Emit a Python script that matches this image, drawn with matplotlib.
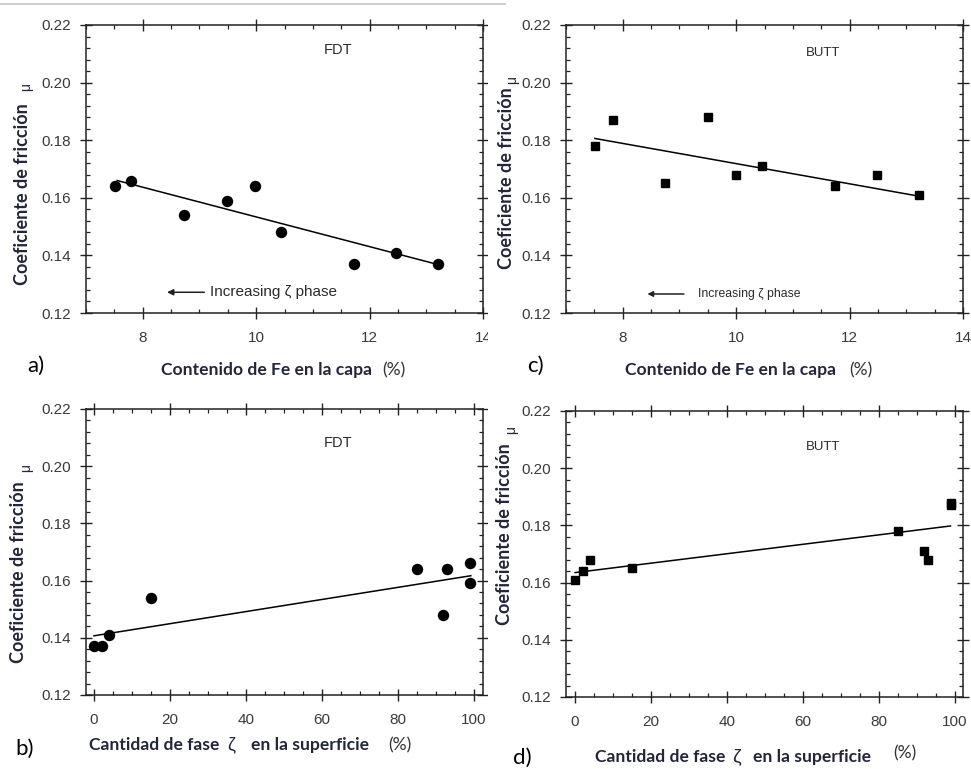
import matplotlib
matplotlib.use("Agg")
import matplotlib.pyplot as plt
from matplotlib.ticker import MultipleLocator, FormatStrFormatter
from matplotlib.patches import Rectangle
from matplotlib.lines import Line2D

# ---------------- data ----------------
fe_fdt = [7.51, 7.80, 8.72, 9.49, 9.98, 10.43, 11.72, 12.46, 13.21]
mu_fdt = [0.164, 0.166, 0.154, 0.159, 0.164, 0.148, 0.137, 0.141, 0.137]
fit_fe_fdt_x = [7.55, 13.25]
fit_fe_fdt_y = [0.166, 0.1366]

fe_butt = [7.52, 7.82, 8.74, 9.51, 10.0, 10.45, 11.74, 12.48, 13.22]
mu_butt = [0.178, 0.187, 0.165, 0.188, 0.168, 0.171, 0.164, 0.168, 0.161]
fit_fe_butt_x = [7.51, 13.27]
fit_fe_butt_y = [0.1806, 0.1604]

zeta_fdt = [0, 2, 4, 15, 85, 93, 92, 99, 99]
mu_zeta_fdt = [0.137, 0.137, 0.141, 0.154, 0.164, 0.164, 0.148, 0.166, 0.159]
fit_zeta_fdt_x = [0, 99.2]
fit_zeta_fdt_y = [0.1407, 0.1617]

zeta_butt = [0, 2, 4, 15, 85, 92, 93, 99, 99]
mu_zeta_butt = [0.161, 0.164, 0.168, 0.165, 0.178, 0.171, 0.168, 0.188, 0.187]
fit_zeta_butt_x = [0, 98.9]
fit_zeta_butt_y = [0.1635, 0.1798]

yticks = [0.12, 0.14, 0.16, 0.18, 0.20, 0.22]
fe_ticks = [8, 10, 12, 14]
zeta_ticks = [0, 20, 40, 60, 80, 100]

# ---------------- figure ----------------
W, H = 971, 769
fig = plt.figure(figsize=(W / 100, H / 100), dpi=100)
fig.patch.set_facecolor("white")

def axrect(l, r, t, b):
    return [l / W, 1 - b / H, (r - l) / W, (b - t) / H]

TICKC = "#3a3a3a"
LABC = "#23263a"
TICKFONT = "Liberation Sans"
LABFONT = "Lato"

def style(ax, xlim, xticks, xminor, xfmt):
    ax.set_ylim(0.12, 0.22)
    ax.set_xlim(*xlim)
    ax.set_yticks(yticks)
    ax.yaxis.set_minor_locator(MultipleLocator(0.004))
    ax.set_xticks(xticks)
    ax.xaxis.set_minor_locator(MultipleLocator(xminor))
    ax.yaxis.set_major_formatter(FormatStrFormatter("%.2f"))
    ax.xaxis.set_major_formatter(FormatStrFormatter(xfmt))
    ax.tick_params(which="major", direction="inout", length=8, width=1,
                   top=True, right=True, labelsize=11, labelcolor=TICKC,
                   pad=5, color="#222222")
    ax.tick_params(axis="x", which="major", pad=9)
    ax.tick_params(axis="y", which="major", pad=7)
    ax.tick_params(which="minor", direction="in", length=3, width=0.9,
                   top=True, right=True, color="#222222")
    for lab in ax.get_xticklabels() + ax.get_yticklabels():
        lab.set_fontfamily(TICKFONT)
    for s in ax.spines.values():
        s.set_linewidth(1.1)
        s.set_color("#222222")

ax_a = fig.add_axes(axrect(86, 483, 25, 313))
ax_c = fig.add_axes(axrect(566, 963, 25, 313))
ax_b = fig.add_axes(axrect(86, 483, 409, 695))
ax_d = fig.add_axes(axrect(566, 963, 411, 697))

for ax in (ax_a, ax_b):
    ax.set_zorder(0)
for ax in (ax_c, ax_d):
    ax.set_zorder(2)
# white panel covering the cut-off labels of the left panels
fig.patches.append(Rectangle((488 / W, 0), 1 - 488 / W, 1, transform=fig.transFigure,
                             facecolor="white", edgecolor="none", zorder=1))
fig.lines.append(Line2D([0, 505 / W], [1 - 4.3 / H, 1 - 4.3 / H], transform=fig.transFigure,
                        color="#c8c8c8", lw=1.3, zorder=3))

style(ax_a, (7, 14), fe_ticks, 0.5, "%d")
style(ax_c, (7, 14), fe_ticks, 0.5, "%d")
style(ax_b, (-2.1, 102.4), zeta_ticks, 5, "%d")
style(ax_d, (-2.4, 102.2), zeta_ticks, 5, "%d")

# data
ax_a.plot(fe_fdt, mu_fdt, "o", color="black", ms=7.2, zorder=3)
ax_a.plot(fit_fe_fdt_x, fit_fe_fdt_y, "-", color="black", lw=1.1)
ax_c.plot(fe_butt, mu_butt, "s", color="black", ms=5.4, zorder=3)
ax_c.plot(fit_fe_butt_x, fit_fe_butt_y, "-", color="black", lw=1.1)
ax_b.plot(zeta_fdt, mu_zeta_fdt, "o", color="black", ms=7.2, zorder=3)
ax_b.plot(fit_zeta_fdt_x, fit_zeta_fdt_y, "-", color="black", lw=1.1)
ax_d.plot(zeta_butt, mu_zeta_butt, "s", color="black", ms=5.4, zorder=3)
ax_d.plot(fit_zeta_butt_x, fit_zeta_butt_y, "-", color="black", lw=1.1)

# in-plot annotations
ax_a.text(0.635, 0.913, "FDT", transform=ax_a.transAxes, ha="center", va="center",
          fontsize=10.5, family=TICKFONT, color="#2a2a2a")
ax_c.text(0.648, 0.903, "BUTT", transform=ax_c.transAxes, ha="center", va="center",
          fontsize=9.5, family=TICKFONT, color="#2a2a2a")
ax_b.text(0.635, 0.880, "FDT", transform=ax_b.transAxes, ha="center", va="center",
          fontsize=10.5, family=TICKFONT, color="#2a2a2a")
ax_d.text(0.648, 0.875, "BUTT", transform=ax_d.transAxes, ha="center", va="center",
          fontsize=9.5, family=TICKFONT, color="#2a2a2a")

ax_a.annotate("", xy=(0.204, 0.072), xytext=(0.298, 0.072), xycoords="axes fraction",
              arrowprops=dict(arrowstyle="-|>", color="#222222", lw=1.1, mutation_scale=9,
                              shrinkA=0, shrinkB=0))
ax_a.text(0.312, 0.072, "Increasing ζ phase", transform=ax_a.transAxes, ha="left",
          va="center", fontsize=11, family=TICKFONT, color="#2a2a2a")
ax_c.annotate("", xy=(0.205, 0.066), xytext=(0.297, 0.066), xycoords="axes fraction",
              arrowprops=dict(arrowstyle="-|>", color="#222222", lw=1.1, mutation_scale=8,
                              shrinkA=0, shrinkB=0))
ax_c.text(0.333, 0.066, "Increasing ζ phase", transform=ax_c.transAxes, ha="left",
          va="center", fontsize=8.8, family=TICKFONT, color="#2a2a2a")

# axis labels
LABSIZE = 12.6

def ylab(ax, x, y, mx, my):
    ax.text(x, y, "Coeficiente de fricción", transform=ax.transAxes, rotation=90,
            ha="center", va="center", fontsize=13, fontweight="bold",
            family=LABFONT, color=LABC)
    ax.text(mx, my, "μ", transform=ax.transAxes, rotation=90, ha="center", va="center",
            fontsize=10, family=TICKFONT, color=LABC)

ylab(ax_a, -0.161, 0.413, -0.150, 0.785)
ylab(ax_c, -0.149, 0.467, -0.136, 0.809)
ylab(ax_b, -0.169, 0.428, -0.151, 0.793)
ylab(ax_d, -0.154, 0.570, -0.139, 0.934)

def lab(ax, x, y, s, bold=True, ha="left", size=LABSIZE, fam=LABFONT, color=LABC):
    ax.text(x, y, s, transform=ax.transAxes, ha=ha, va="center", fontsize=size,
            fontweight="bold" if bold else "normal", family=fam, color=color)

lab(ax_a, 0.189, -0.198, "Contenido de Fe en la capa")
lab(ax_a, 0.775, -0.198, "(%)", bold=False, ha="center", color="#333333")
lab(ax_c, 0.149, -0.198, "Contenido de Fe en la capa")
lab(ax_c, 0.742, -0.198, "(%)", bold=False, ha="center", color="#333333")

lab(ax_b, 0.008, -0.175, "Cantidad de fase")
lab(ax_b, 0.367, -0.175, "ζ", bold=False, ha="center", fam=TICKFONT, size=13)
lab(ax_b, 0.416, -0.175, "en la superficie")
lab(ax_b, 0.790, -0.175, "(%)", bold=False, ha="center", color="#333333")

lab(ax_d, 0.073, -0.209, "Cantidad de fase")
lab(ax_d, 0.430, -0.209, "ζ", bold=False, ha="center", fam=TICKFONT, size=14)
lab(ax_d, 0.470, -0.209, "en la superficie")
lab(ax_d, 0.854, -0.196, "(%)", bold=False, ha="center", color="#333333")

# panel letters
lab(ax_a, -0.149, -0.184, "a)", bold=False, size=16, color="black")
lab(ax_c, -0.099, -0.184, "c)", bold=False, size=16, color="black")
lab(ax_b, -0.179, -0.189, "b)", bold=False, size=16, color="black")
lab(ax_d, -0.134, -0.213, "d)", bold=False, size=16, color="black")

fig.savefig("out.png", dpi=100, facecolor="white")
